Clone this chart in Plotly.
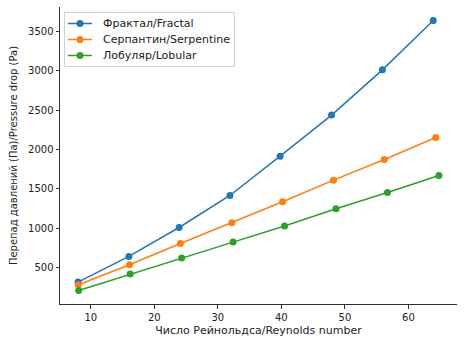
import plotly.graph_objects as go

x_fractal = [8.0, 16.0, 23.9, 31.9, 39.8, 47.9, 55.9, 63.9]
y_fractal = [314, 640, 1008, 1415, 1915, 2437, 3013, 3640]
x_serp = [8.05, 16.1, 24.1, 32.2, 40.2, 48.2, 56.2, 64.3]
y_serp = [280, 534, 805, 1068, 1335, 1610, 1873, 2152]
x_lob = [8.1, 16.2, 24.3, 32.4, 40.5, 48.6, 56.7, 64.8]
y_lob = [207, 415, 619, 822, 1026, 1246, 1453, 1669]

names = ["Фрактал/Fractal", "Серпантин/Serpentine", "Лобуляр/Lobular"]
colors = ["#1f77b4", "#ff7f0e", "#2ca02c"]
xs = [x_fractal, x_serp, x_lob]
ys = [y_fractal, y_serp, y_lob]

x_ticks = [10, 20, 30, 40, 50, 60]
y_ticks = [500, 1000, 1500, 2000, 2500, 3000, 3500]

W, H = 465, 346
L, R, T, B = 60, 8, 7, 42
PW, PH = W - L - R, H - T - B


def px(x):
    return (x - L) / PW


def py(y):
    return (H - B - y) / PH


fig = go.Figure()
for n, c, x, y in zip(names, colors, xs, ys):
    fig.add_trace(go.Scatter(x=x, y=y, mode="lines+markers", name=n,
                             line=dict(color=c, width=1.5),
                             marker=dict(color=c, size=7), showlegend=False))

# manual matplotlib-style legend
shapes = [dict(type="rect", xref="paper", yref="paper",
               x0=px(64.5), x1=px(234.5), y0=py(66.5), y1=py(12.5),
               line=dict(color="#d0d0d0", width=1), fillcolor="rgba(255,255,255,0.8)")]
annotations = []
rows = [23.5, 39.5, 55.5]
for n, c, ry in zip(names, colors, rows):
    shapes.append(dict(type="line", xref="paper", yref="paper",
                       x0=px(68), x1=px(92), y0=py(ry), y1=py(ry),
                       line=dict(color=c, width=1.5)))
    shapes.append(dict(type="circle", xref="paper", yref="paper",
                       x0=px(76.5), x1=px(83.5), y0=py(ry + 3.5), y1=py(ry - 3.5),
                       line=dict(color=c, width=0), fillcolor=c))
    annotations.append(dict(xref="paper", yref="paper", x=px(101), y=py(ry),
                            xanchor="left", yanchor="middle", showarrow=False,
                            text=n, font=dict(family="DejaVu Sans", size=11, color="#222")))

fig.update_layout(
    width=W, height=H,
    margin=dict(l=L, r=R, t=T, b=B),
    paper_bgcolor="white", plot_bgcolor="white",
    font=dict(family="DejaVu Sans", size=10, color="#222"),
    showlegend=False,
    shapes=shapes, annotations=annotations,
    xaxis=dict(range=[5.16, 67.64], tickvals=x_ticks, showgrid=False, zeroline=False,
               showline=True, linecolor="#333", linewidth=1, ticks="outside",
               ticklen=3.5, tickcolor="#333", automargin=False,
               title=dict(text="Число Рейнольдса/Reynolds number", font=dict(size=11), standoff=4)),
    yaxis=dict(range=[35, 3812], tickvals=y_ticks, showgrid=False, zeroline=False,
               showline=True, linecolor="#333", linewidth=1, ticks="outside",
               ticklen=3.5, tickcolor="#333", automargin=False,
               title=dict(text="Перепад давлений (Па)/Pressure drop (Pa)", font=dict(size=10), standoff=8)),
)
fig.write_html("out.html", config={"displayModeBar": False},
               post_script="document.body.style.margin='0px';")
